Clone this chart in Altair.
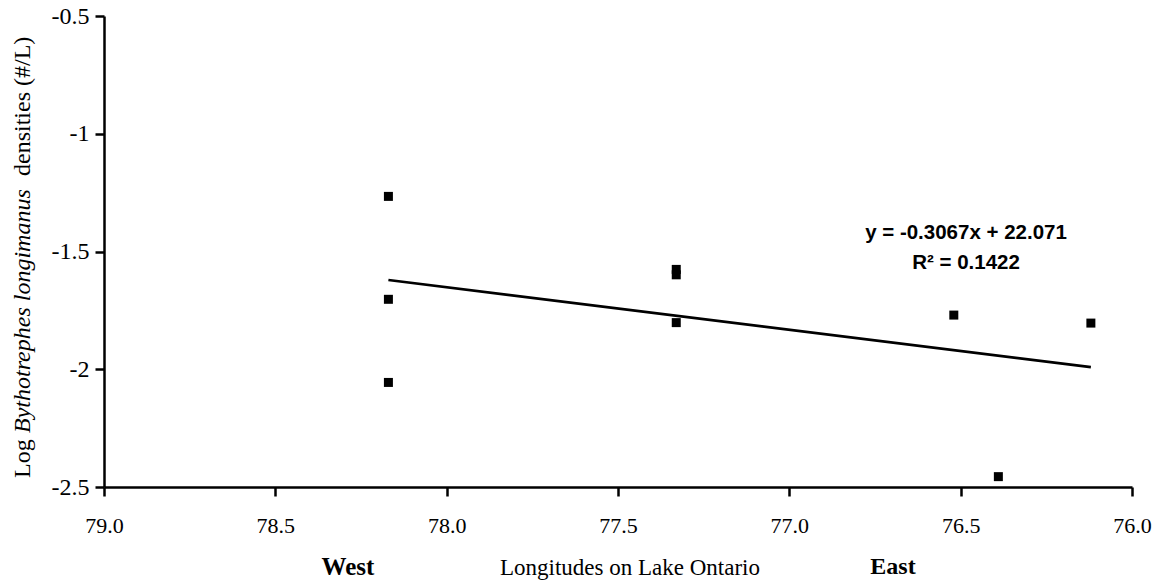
import altair as alt
import pandas as pd

# Sampling stations: longitude (degrees W) and log Bythotrephes density (#/L)
longitude = [78.17, 78.17, 78.17, 77.33, 77.33, 77.33, 76.52, 76.39, 76.12]
log_density = [-1.266, -1.703, -2.056, -1.576, -1.599, -1.802, -1.770, -2.456, -1.804]

x_ticks = [79.0, 78.5, 78.0, 77.5, 77.0, 76.5, 76.0]
y_ticks = [-2.5, -2.0, -1.5, -1.0, -0.5]

equation_text = "y = -0.3067x + 22.071"
r2_text = "R² = 0.1422"

df = pd.DataFrame({"lon": longitude, "dens": log_density})

SERIF = "Liberation Serif"
SANS = "Liberation Sans"

x_enc = alt.X(
    "lon:Q",
    scale=alt.Scale(domain=[76, 79], reverse=True, nice=False, zero=False),
    axis=alt.Axis(
        values=x_ticks,
        labelExpr="format(datum.value, '.1f')",
        title=None,
        grid=False,
        tickSize=9,
        tickWidth=2.5,
        tickColor="black",
        domainColor="black",
        domainWidth=2.5,
        labelFont=SERIF,
        labelFontSize=22,
        labelColor="black",
        labelPadding=19,
        labelFlush=False,
        labelOverlap=False,
    ),
)
y_enc = alt.Y(
    "dens:Q",
    scale=alt.Scale(domain=[-2.5, -0.5], nice=False, zero=False),
    axis=alt.Axis(
        values=y_ticks,
        labelExpr="toString(datum.value)",
        title=None,
        grid=False,
        tickSize=9,
        tickWidth=2.5,
        tickColor="black",
        domainColor="black",
        domainWidth=2.5,
        labelFont=SERIF,
        labelFontSize=24,
        labelColor="black",
        labelPadding=6,
        labelFlush=False,
        labelOverlap=False,
    ),
)

base = alt.Chart(df)

points = base.mark_square(size=81, color="black", opacity=1).encode(x=x_enc, y=y_enc)

trend = (
    base.transform_regression("lon", "dens")
    .mark_line(color="black", strokeWidth=2.7)
    .encode(x="lon:Q", y="dens:Q")
)


def label(text, px, py, font=SERIF, size=22, weight="normal", style="normal",
          angle=0, align="center"):
    one = pd.DataFrame({"t": [text]})
    return alt.Chart(one).mark_text(
        font=font,
        fontSize=size,
        fontWeight=weight,
        fontStyle=style,
        angle=angle,
        align=align,
        baseline="middle",
        color="black",
    ).encode(x=alt.value(px), y=alt.value(py), text="t:N")


annotations = [
    label(equation_text, 862, 217, font=SANS, size=20.5, weight="bold"),
    label(r2_text, 862, 247, font=SANS, size=20.5, weight="bold"),
    label("West", 244, 551, size=25, weight="bold"),
    label("East", 789, 551, size=24, weight="bold"),
    label("Longitudes on Lake Ontario", 526, 552, size=23),
    # rotated y-axis title, split so the species name can be italic
    label("Log", -81, 462, size=24, angle=270, align="left"),
    label("Bythotrephes longimanus", -81, 417, size=24, style="italic",
          angle=270, align="left"),
    label("densities (#/L)", -81, 160, size=24, angle=270, align="left"),
]

chart = (
    alt.layer(points, trend, *annotations)
    .properties(
        width=1028,
        height=471,
        padding={"left": 104, "top": 16, "right": 28, "bottom": 96},
        autosize=alt.AutoSizeParams(type="none"),
        background="white",
    )
    .configure_view(stroke=None)
)

chart.save("out.html", embed_options={"renderer": "svg", "actions": False})
